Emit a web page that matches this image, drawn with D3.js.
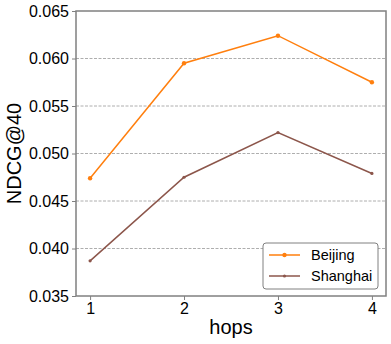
<!DOCTYPE html>
<html>
<head>
<meta charset="utf-8">
<script src="https://cdn.jsdelivr.net/npm/d3@7"></script>
<style>
  body { margin: 0; background: #fff; }
  text { font-family: "Liberation Sans", Arial, sans-serif; fill: #000; }
</style>
</head>
<body>
<div id="chart"></div>
<script>
const hops = [1, 2, 3, 4];
const beijing = [0.0474, 0.0595, 0.0624, 0.0575];
const shanghai = [0.0387, 0.0475, 0.0522, 0.0479];
const yTicks = [0.035, 0.040, 0.045, 0.050, 0.055, 0.060, 0.065];
const seriesNames = ["Beijing", "Shanghai"];
const colors = ["#ff7f0e", "#8c564b"];

const margin = { top: 11, right: 5, bottom: 48, left: 76 };
const width = 391, height = 344;

const svg = d3.select("#chart")
  .append("svg")
  .attr("width", width)
  .attr("height", height);

const x = d3.scaleLinear().domain([0.85, 4.15]).range([margin.left, width - margin.right]);
const y = d3.scaleLinear().domain([0.035, 0.065]).range([height - margin.bottom, margin.top]);

// grid lines
svg.append("g")
  .selectAll("line")
  .data(yTicks.slice(1, -1))
  .enter()
  .append("line")
  .attr("x1", margin.left)
  .attr("x2", width - margin.right)
  .attr("y1", d => y(d))
  .attr("y2", d => y(d))
  .attr("stroke", "#999")
  .attr("stroke-width", 0.8)
  .attr("stroke-dasharray", "3,1.5");

// axes
const xAxis = svg.append("g")
  .attr("transform", `translate(0,${height - margin.bottom})`)
  .call(d3.axisBottom(x).tickValues(hops).tickFormat(d3.format("d")).tickSize(4).tickPadding(3));

const yAxis = svg.append("g")
  .attr("transform", `translate(${margin.left},0)`)
  .call(d3.axisLeft(y).tickValues(yTicks).tickFormat(d3.format(".3f")).tickSize(4).tickPadding(3));

[xAxis, yAxis].forEach(g => {
  g.select(".domain").remove();
  g.selectAll(".tick line").attr("stroke", "#808080").attr("stroke-width", 1);
  g.selectAll(".tick text").attr("font-size", 16).style("fill", "#000");
});

// frame
svg.append("rect")
  .attr("x", margin.left)
  .attr("y", margin.top)
  .attr("width", width - margin.left - margin.right)
  .attr("height", height - margin.top - margin.bottom)
  .attr("fill", "none")
  .attr("stroke", "#808080")
  .attr("stroke-width", 1.5);

const line = d3.line()
  .x((d, i) => x(hops[i]))
  .y(d => y(d));

[beijing, shanghai].forEach((vals, k) => {
  svg.append("path")
    .datum(vals)
    .attr("d", line)
    .attr("fill", "none")
    .attr("stroke", colors[k])
    .attr("stroke-width", 1.5);

  svg.append("g")
    .selectAll("circle")
    .data(vals)
    .enter()
    .append("circle")
    .attr("cx", (d, i) => x(hops[i]))
    .attr("cy", d => y(d))
    .attr("r", k === 0 ? 2.2 : 1.6)
    .attr("fill", colors[k]);
});

// axis labels
svg.append("text")
  .attr("x", (margin.left + width - margin.right) / 2)
  .attr("y", 334)
  .attr("text-anchor", "middle")
  .attr("font-size", 20)
  .text("hops");

svg.append("text")
  .attr("transform", `translate(21,${(margin.top + height - margin.bottom) / 2}) rotate(-90)`)
  .attr("text-anchor", "middle")
  .attr("font-size", 20)
  .text("NDCG@40");

// legend
const legend = svg.append("g").attr("transform", "translate(263,243)");
legend.append("rect")
  .attr("width", 115)
  .attr("height", 46)
  .attr("rx", 3)
  .attr("fill", "#fff")
  .attr("stroke", "#808080")
  .attr("stroke-width", 1);

seriesNames.forEach((name, k) => {
  const ly = 12 + k * 21;
  legend.append("line")
    .attr("x1", 6).attr("x2", 37)
    .attr("y1", ly).attr("y2", ly)
    .attr("stroke", colors[k])
    .attr("stroke-width", 1.5);
  legend.append("circle")
    .attr("cx", 21.5).attr("cy", ly)
    .attr("r", k === 0 ? 2.2 : 1.6)
    .attr("fill", colors[k]);
  legend.append("text")
    .attr("x", 48)
    .attr("y", ly + 5)
    .attr("font-size", 14.5)
    .text(name);
});
</script>
</body>
</html>
